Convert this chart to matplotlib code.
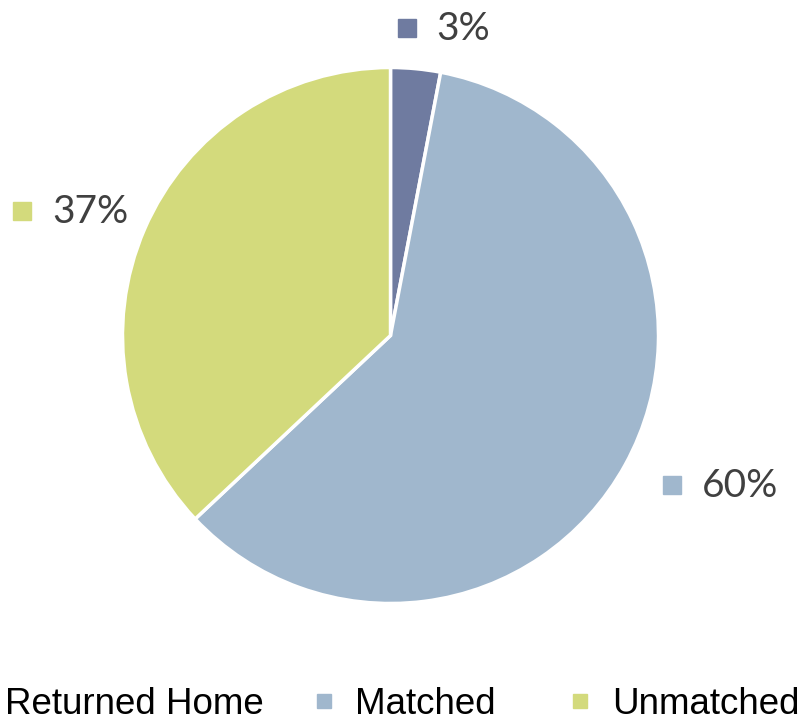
import numpy as np
import matplotlib
matplotlib.use("Agg")
import matplotlib.pyplot as plt
from matplotlib.lines import Line2D

categories = ["Returned Home", "Matched", "Unmatched"]
shares = [3, 60, 37]
pct_labels = ["3%", "60%", "37%"]
colors = ["#6F7BA0", "#A0B7CD", "#D3DA7C"]

W, H = 804, 718
fig = plt.figure(figsize=(W / 100, H / 100), dpi=100)

cx, cy, r = 390.5, 335.5, 268
ax = fig.add_axes([(cx - r) / W, (H - cy - r) / H, 2 * r / W, 2 * r / H])
ax.pie(shares, colors=colors, startangle=90, counterclock=False,
       wedgeprops=dict(edgecolor="white", linewidth=2.5))
ax.set_xlim(-1, 1)
ax.set_ylim(-1, 1)
ax.axis("off")

# label layout in reference pixels: marker centre x, y, text left x
label_pos = [(407, 28, 436), (672, 485, 702), (22.5, 211, 52)]
for lab, col, (mx, my, tx) in zip(pct_labels, colors, label_pos):
    fig.text(tx / W, 1 - (my + 1) / H, lab, fontsize=28, family="Lato",
             color="#404040", ha="left", va="center")
    fig.add_artist(Line2D([mx / W], [1 - my / H], marker="s", markersize=12.5,
                          color=col, transform=fig.transFigure))

# legend: one entry each so the spacing follows the reference
leg_x = [-37.5, 312.5, 569]
for cat, col, x0 in zip(categories, colors, leg_x):
    h = Line2D([], [], marker="s", linestyle="none", markersize=10, color=col)
    fig.legend([h], [cat], loc="center left",
               bbox_to_anchor=(x0 / W, 1 - 704 / H), frameon=False,
               prop=dict(family="Liberation Sans", size=26.5),
               handlelength=0.6, handletextpad=0.56,
               borderpad=0, borderaxespad=0)

fig.savefig("out.png", dpi=100)
